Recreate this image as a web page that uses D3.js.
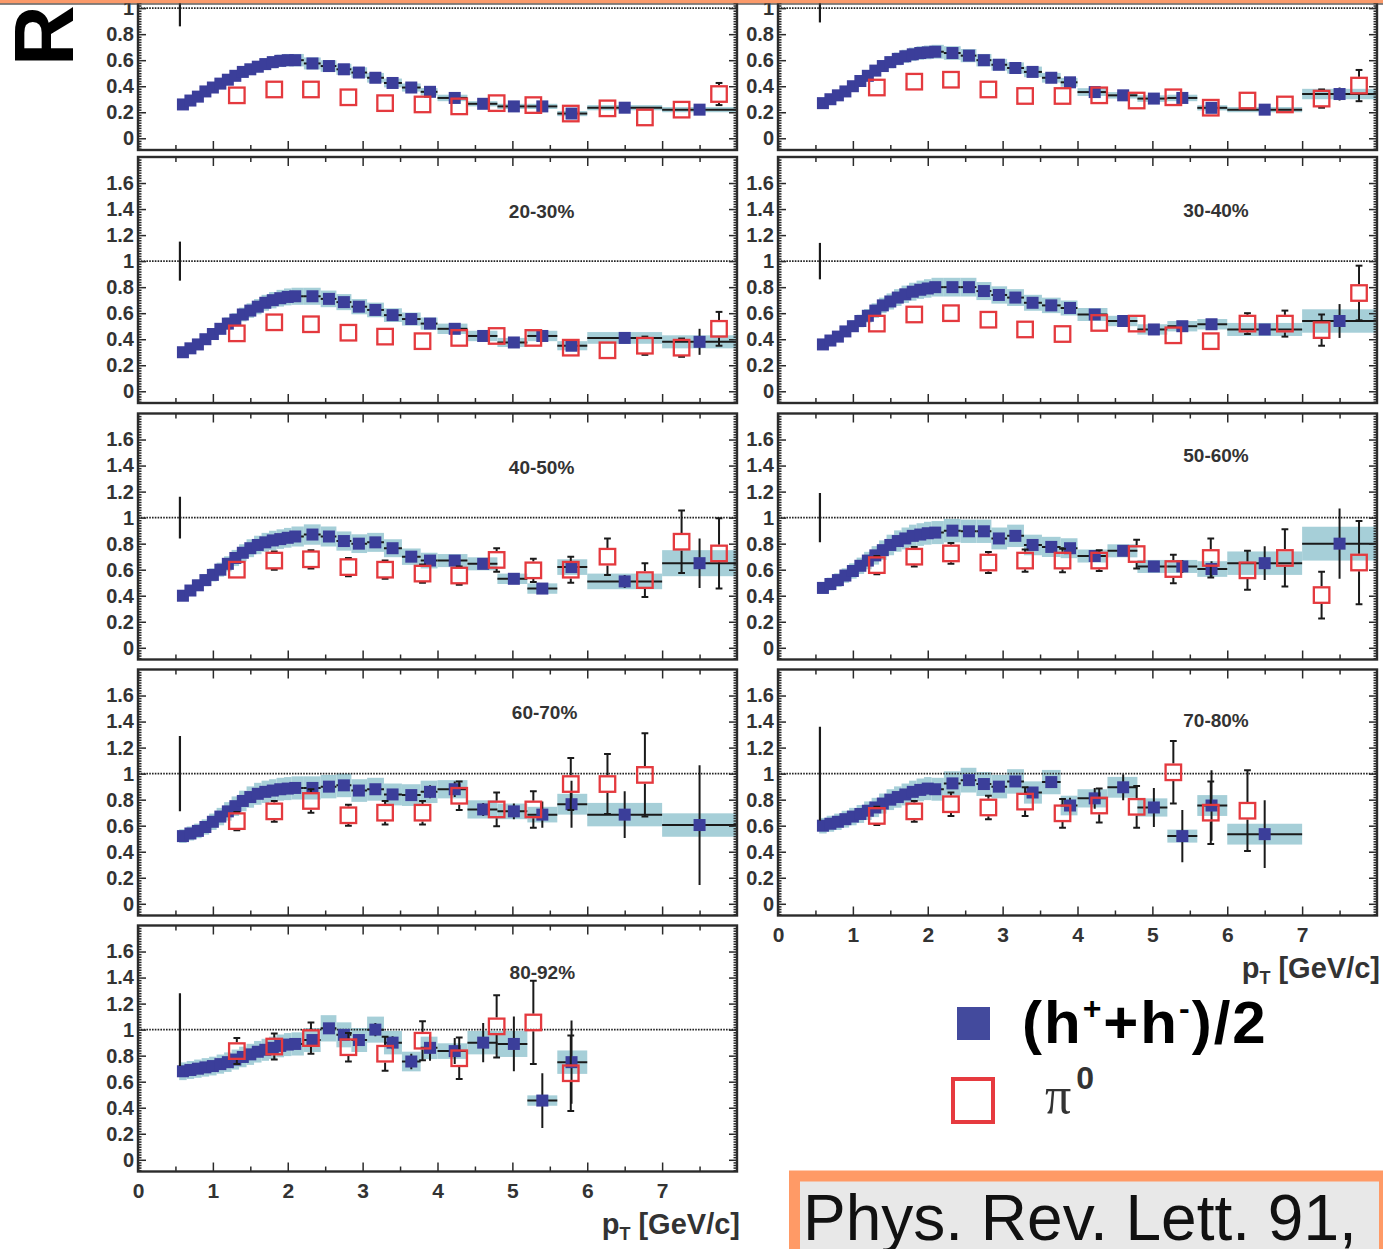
<!DOCTYPE html>
<html>
<head>
<meta charset="utf-8">
<script src="https://cdn.jsdelivr.net/npm/d3@7"></script>
<style>
  html, body { margin: 0; padding: 0; background: #fff; }
  svg { display: block; }
</style>
</head>
<body>
<svg id="fig" width="1383" height="1249"></svg>
<script>
// ---------------------------------------------------------------
// Data: R_CP of (h+ + h-)/2 and pi0 versus pT, per centrality class
// ---------------------------------------------------------------
const centralities = ["0-10%", "10-20%", "20-30%", "30-40%", "40-50%", "50-60%", "60-70%", "70-80%", "80-92%"];

// charged hadron pT bins
const ptFine = [0.6, 0.7, 0.8, 0.9, 1.0, 1.1, 1.2, 1.3, 1.4, 1.5, 1.6, 1.7, 1.8, 1.9, 2.0, 2.1];
const ptMid = [2.33, 2.55, 2.75, 2.95, 3.17, 3.4, 3.65, 3.9];
const ptHigh = [4.23, 4.61, 5.02, 5.4, 5.79, 6.5, 7.5];
const highEdges = [4.0, 4.4, 4.8, 5.2, 5.6, 6.0, 7.0, 8.0];

const hadronFineR = [
  [0.26, 0.29, 0.32, 0.36, 0.39, 0.42, 0.45, 0.48, 0.51, 0.53, 0.55, 0.57, 0.585, 0.595, 0.60, 0.60],
  [0.27, 0.30, 0.33, 0.36, 0.40, 0.44, 0.48, 0.52, 0.555, 0.585, 0.61, 0.63, 0.645, 0.655, 0.66, 0.665],
  [0.30, 0.33, 0.36, 0.40, 0.44, 0.48, 0.52, 0.55, 0.59, 0.62, 0.65, 0.68, 0.70, 0.715, 0.725, 0.73],
  [0.36, 0.39, 0.42, 0.46, 0.50, 0.54, 0.58, 0.62, 0.66, 0.69, 0.72, 0.745, 0.765, 0.78, 0.79, 0.80],
  [0.40, 0.44, 0.48, 0.52, 0.56, 0.60, 0.645, 0.69, 0.73, 0.765, 0.79, 0.81, 0.825, 0.835, 0.845, 0.855],
  [0.46, 0.49, 0.52, 0.555, 0.59, 0.63, 0.67, 0.71, 0.75, 0.79, 0.82, 0.84, 0.86, 0.87, 0.88, 0.885],
  [0.52, 0.54, 0.56, 0.59, 0.63, 0.67, 0.71, 0.75, 0.79, 0.82, 0.845, 0.86, 0.87, 0.88, 0.885, 0.89],
  [0.60, 0.615, 0.63, 0.65, 0.67, 0.69, 0.715, 0.74, 0.77, 0.80, 0.82, 0.84, 0.86, 0.875, 0.885, 0.88],
  [0.68, 0.69, 0.70, 0.71, 0.72, 0.735, 0.75, 0.77, 0.79, 0.81, 0.83, 0.845, 0.86, 0.875, 0.885, 0.89]
];

const hadronMidR = [
  [0.575, 0.555, 0.53, 0.505, 0.465, 0.425, 0.39, 0.357],
  [0.655, 0.635, 0.60, 0.565, 0.54, 0.51, 0.465, 0.43],
  [0.73, 0.71, 0.685, 0.65, 0.625, 0.585, 0.555, 0.52],
  [0.80, 0.80, 0.77, 0.74, 0.72, 0.68, 0.66, 0.64],
  [0.87, 0.855, 0.82, 0.80, 0.81, 0.765, 0.70, 0.67],
  [0.90, 0.895, 0.895, 0.84, 0.86, 0.79, 0.775, 0.765],
  [0.89, 0.90, 0.91, 0.87, 0.88, 0.84, 0.835, 0.86],
  [0.925, 0.95, 0.92, 0.90, 0.94, 0.855, 0.935, 0.755],
  [0.92, 1.01, 0.96, 0.92, 1.00, 0.90, 0.755, 0.86]
];

const hadronMidStat = [
  [0.005, 0.005, 0.005, 0.005, 0.006, 0.006, 0.007, 0.008],
  [0.005, 0.005, 0.006, 0.006, 0.007, 0.008, 0.009, 0.01],
  [0.006, 0.006, 0.007, 0.008, 0.009, 0.01, 0.011, 0.012],
  [0.007, 0.007, 0.008, 0.009, 0.01, 0.012, 0.014, 0.016],
  [0.008, 0.009, 0.01, 0.011, 0.013, 0.015, 0.017, 0.02],
  [0.01, 0.011, 0.012, 0.014, 0.016, 0.018, 0.02, 0.025],
  [0.02, 0.02, 0.02, 0.02, 0.03, 0.03, 0.04, 0.05],
  [0.02, 0.02, 0.03, 0.03, 0.03, 0.04, 0.04, 0.06],
  [0.03, 0.03, 0.04, 0.04, 0.05, 0.05, 0.06, 0.10]
];

const hadronHighR = [
  [0.31, 0.265, 0.245, 0.245, 0.19, 0.235, 0.22],
  [0.355, 0.33, 0.305, 0.31, 0.234, 0.22, 0.34],
  [0.48, 0.425, 0.375, 0.425, 0.35, 0.41, 0.38],
  [0.59, 0.54, 0.475, 0.50, 0.515, 0.475, 0.54],
  [0.67, 0.645, 0.53, 0.455, 0.62, 0.51, 0.65],
  [0.705, 0.745, 0.625, 0.625, 0.605, 0.65, 0.80],
  [0.88, 0.725, 0.71, 0.685, 0.765, 0.685, 0.605],
  [0.81, 0.895, 0.74, 0.52, 0.755, 0.535],
  [0.835, 0.90, 0.89, 0.455, 0.75]
];

const hadronHighStat = [
  [0.01, 0.01, 0.01, 0.01, 0.015, 0.015, 0.02],
  [0.01, 0.01, 0.015, 0.015, 0.02, 0.02, 0.05],
  [0.02, 0.02, 0.02, 0.03, 0.03, 0.04, 0.10],
  [0.02, 0.02, 0.02, 0.03, 0.03, 0.03, 0.13],
  [0.02, 0.03, 0.03, 0.03, 0.04, 0.05, 0.19],
  [0.03, 0.04, 0.04, 0.05, 0.06, 0.13, 0.27],
  [0.06, 0.05, 0.06, 0.10, 0.18, 0.18, 0.46],
  [0.08, 0.10, 0.15, 0.20, 0.27, 0.26],
  [0.10, 0.15, 0.21, 0.21, 0.32]
];

const hadronHighSys = [
  [0.025, 0.02, 0.02, 0.02, 0.02, 0.02, 0.02],
  [0.03, 0.025, 0.025, 0.025, 0.02, 0.02, 0.04],
  [0.04, 0.04, 0.035, 0.04, 0.035, 0.045, 0.05],
  [0.05, 0.04, 0.04, 0.04, 0.04, 0.05, 0.09],
  [0.05, 0.05, 0.04, 0.04, 0.06, 0.06, 0.10],
  [0.05, 0.05, 0.05, 0.05, 0.06, 0.09, 0.13],
  [0.07, 0.07, 0.06, 0.06, 0.08, 0.09, 0.09],
  [0.07, 0.08, 0.07, 0.05, 0.08, 0.08],
  [0.06, 0.09, 0.10, 0.04, 0.09]
];

// relative systematic uncertainty of the low-pT hadron points
const hadronSysFrac = [0.08, 0.08, 0.09, 0.09, 0.09, 0.10, 0.10, 0.10, 0.10];

// neutral pion points
const ptPi0 = [1.32, 1.82, 2.31, 2.81, 3.30, 3.80, 4.29, 4.79, 5.28, 5.78, 6.27, 6.77, 7.26, 7.76];

const pi0R = [
  [0.33, 0.375, 0.375, 0.315, 0.27, 0.26, 0.245, 0.27, 0.255, 0.19, 0.23, 0.16, 0.22, 0.34],
  [0.39, 0.435, 0.45, 0.375, 0.325, 0.325, 0.33, 0.29, 0.315, 0.235, 0.29, 0.26, 0.305, 0.405],
  [0.445, 0.53, 0.515, 0.45, 0.42, 0.385, 0.41, 0.425, 0.41, 0.335, 0.315, 0.35, 0.335, 0.48],
  [0.52, 0.59, 0.60, 0.55, 0.475, 0.44, 0.525, 0.52, 0.43, 0.385, 0.52, 0.52, 0.47, 0.755],
  [0.60, 0.67, 0.68, 0.62, 0.60, 0.57, 0.555, 0.675, 0.595, 0.60, 0.70, 0.52, 0.815, 0.725],
  [0.635, 0.70, 0.725, 0.655, 0.67, 0.67, 0.67, 0.72, 0.605, 0.69, 0.595, 0.69, 0.405, 0.655],
  [0.635, 0.71, 0.79, 0.68, 0.70, 0.70, 0.83, 0.725, 0.725, 0.92, 0.92, 0.99],
  [0.675, 0.71, 0.765, 0.74, 0.785, 0.695, 0.755, 0.745, 1.01, 0.70, 0.715],
  [0.835, 0.87, 0.935, 0.865, 0.815, 0.915, 0.78, 1.025, 1.055, 0.665]
];

const pi0Err = [
  [0.02, 0.02, 0.02, 0.02, 0.02, 0.02, 0.02, 0.02, 0.02, 0.025, 0.03, 0.03, 0.04, 0.085],
  [0.02, 0.02, 0.02, 0.02, 0.02, 0.02, 0.03, 0.03, 0.03, 0.03, 0.04, 0.05, 0.07, 0.12],
  [0.03, 0.065, 0.06, 0.05, 0.05, 0.05, 0.05, 0.05, 0.05, 0.04, 0.05, 0.07, 0.07, 0.13],
  [0.065, 0.06, 0.06, 0.06, 0.055, 0.055, 0.06, 0.06, 0.05, 0.05, 0.08, 0.10, 0.12, 0.21],
  [0.06, 0.07, 0.07, 0.07, 0.07, 0.07, 0.07, 0.09, 0.09, 0.10, 0.14, 0.13, 0.24, 0.27],
  [0.07, 0.075, 0.08, 0.08, 0.085, 0.09, 0.08, 0.11, 0.11, 0.15, 0.15, 0.22, 0.18, 0.32],
  [0.07, 0.08, 0.09, 0.08, 0.09, 0.09, 0.11, 0.13, 0.14, 0.20, 0.23, 0.32],
  [0.07, 0.08, 0.09, 0.09, 0.11, 0.11, 0.13, 0.16, 0.24, 0.24, 0.31],
  [0.10, 0.10, 0.12, 0.11, 0.13, 0.15, 0.16, 0.24, 0.32, 0.29]
];

// normalisation uncertainty drawn as a bar at R = 1
const normUncert = [0.14, 0.11, 0.15, 0.14, 0.16, 0.19, 0.29, 0.36, 0.28];

const yTickValues = [0, 0.2, 0.4, 0.6, 0.8, 1.0, 1.2, 1.4, 1.6];
const xTickValues = [0, 1, 2, 3, 4, 5, 6, 7];
const citation = "Phys. Rev. Lett. 91,";

// ---------------------------------------------------------------
// Layout
// ---------------------------------------------------------------
const svg = d3.select("#fig");
const colLeft = [138, 778];
const panelW = 599;
const panelH = 246;
const rowTop = [-96, 157, 413.5, 669.5, 925.5];
const panelGrid = [[0, 0], [1, 0], [0, 1], [1, 1], [0, 2], [1, 2], [0, 3], [1, 3], [0, 4]];
const labelAnchor = [[5.4, 1.39], [5.85, 1.39], [5.39, 1.385], [5.85, 1.39], [5.39, 1.39], [5.85, 1.48], [5.43, 1.47], [5.85, 1.415], [5.40, 1.445]];
const normX = 0.56;

const C = {
  hadron: "#3b3e9a",
  band: "#a6cfd8",
  pi0: "#e4393e",
  ink: "#1a1a1a",
  axis: "#2b2b2b",
  text: "#333333"
};
const FONT = "'Liberation Sans', Arial, Helvetica, sans-serif";

svg.append("rect").attr("width", 1383).attr("height", 1249).attr("fill", "#fff");

const defs = svg.append("defs");

function fmtY(d) {
  if (Math.abs(d) < 1e-9) return "0";
  if (Math.abs(d - 1) < 1e-9) return "1";
  return d3.format(".1f")(d);
}

function drawPanel(i) {
  const [col, row] = panelGrid[i];
  const x0 = colLeft[col];
  const top = rowTop[row];
  const x = d3.scaleLinear().domain([0, 8]).range([x0, x0 + panelW]);
  const y = d3.scaleLinear().domain([-0.09, 1.8]).range([top + panelH, top]);
  const isBottom = (i === 7 || i === 8);

  const clipId = "clip-" + i;
  defs.append("clipPath").attr("id", clipId)
    .append("rect").attr("x", x0).attr("y", top).attr("width", panelW).attr("height", panelH);

  const g = svg.append("g").attr("class", "panel");
  const plot = g.append("g").attr("clip-path", `url(#${clipId})`);

  // hadron points with bin edges
  const lowPt = ptFine.concat(ptMid);
  const lowR = hadronFineR[i].concat(hadronMidR[i]);
  const lowStat = ptFine.map(() => 0).concat(hadronMidStat[i]);
  const edges = lowPt.map((p, k) => k === 0 ? p - 0.05 : (lowPt[k - 1] + p) / 2);
  edges.push(highEdges[0]);
  const hadrons = lowPt.map((p, k) => ({
    pt: p, lo: edges[k], hi: edges[k + 1], r: lowR[k], stat: lowStat[k], sys: lowR[k] * hadronSysFrac[i]
  }));
  hadronHighR[i].forEach((r, k) => hadrons.push({
    pt: ptHigh[k], lo: highEdges[k], hi: highEdges[k + 1], r: r,
    stat: hadronHighStat[i][k], sys: hadronHighSys[i][k]
  }));

  const pions = pi0R[i].map((r, k) => ({ pt: ptPi0[k], r: r, err: pi0Err[i][k] }));

  // systematic boxes
  plot.append("g").selectAll("rect").data(hadrons).join("rect")
    .attr("x", d => x(d.lo))
    .attr("width", d => x(d.hi) - x(d.lo))
    .attr("y", d => y(d.r + d.sys))
    .attr("height", d => y(d.r - d.sys) - y(d.r + d.sys))
    .attr("fill", C.band);

  // reference line at R = 1
  plot.append("line")
    .attr("x1", x(0)).attr("x2", x(8))
    .attr("y1", y(1)).attr("y2", y(1))
    .attr("stroke", "#222").attr("stroke-width", 1.6)
    .attr("stroke-dasharray", "1.6,1.2");

  // hadron bin widths and statistical errors
  plot.append("g").selectAll("line").data(hadrons).join("line")
    .attr("x1", d => x(d.lo)).attr("x2", d => x(d.hi))
    .attr("y1", d => y(d.r)).attr("y2", d => y(d.r))
    .attr("stroke", C.ink).attr("stroke-width", 2);
  plot.append("g").selectAll("line").data(hadrons.filter(d => d.stat > 0)).join("line")
    .attr("x1", d => x(d.pt)).attr("x2", d => x(d.pt))
    .attr("y1", d => y(d.r - d.stat)).attr("y2", d => y(d.r + d.stat))
    .attr("stroke", C.ink).attr("stroke-width", 2);

  // hadron markers
  const hs = 12;
  plot.append("g").selectAll("rect").data(hadrons).join("rect")
    .attr("x", d => x(d.pt) - hs / 2).attr("y", d => y(d.r) - hs / 2)
    .attr("width", hs).attr("height", hs)
    .attr("fill", C.hadron);

  // pi0 error bars (outside the open marker)
  const ps = 15.5;
  const half = ps / 2 + 1;
  const cap = 3.4;
  const pe = plot.append("g").attr("stroke", C.ink).attr("stroke-width", 2);
  pions.forEach(d => {
    const cy = y(d.r), cx = x(d.pt);
    const yUp = y(d.r + d.err), yDn = y(d.r - d.err);
    if (cy - yUp > half) {
      pe.append("line").attr("x1", cx).attr("x2", cx).attr("y1", cy - half).attr("y2", yUp);
      pe.append("line").attr("x1", cx - cap).attr("x2", cx + cap).attr("y1", yUp).attr("y2", yUp);
    }
    if (yDn - cy > half) {
      pe.append("line").attr("x1", cx).attr("x2", cx).attr("y1", cy + half).attr("y2", yDn);
      pe.append("line").attr("x1", cx - cap).attr("x2", cx + cap).attr("y1", yDn).attr("y2", yDn);
    }
  });

  // pi0 markers
  plot.append("g").selectAll("rect").data(pions).join("rect")
    .attr("x", d => x(d.pt) - ps / 2).attr("y", d => y(d.r) - ps / 2)
    .attr("width", ps).attr("height", ps)
    .attr("fill", "none").attr("stroke", C.pi0).attr("stroke-width", 2.3);

  // normalisation uncertainty
  plot.append("line")
    .attr("x1", x(normX)).attr("x2", x(normX))
    .attr("y1", y(1 - normUncert[i])).attr("y2", y(1 + normUncert[i]))
    .attr("stroke", C.ink).attr("stroke-width", 2.2);

  // axes
  const minorY = d3.range(-4, 91).filter(k => k % 10 !== 0).map(k => k * 0.02);
  const minorX = d3.range(0, 8).map(k => k + 0.5);

  const styleAxis = sel => {
    sel.select(".domain").remove();
    sel.selectAll(".tick line").attr("stroke", C.axis).attr("stroke-width", 1.5);
    sel.selectAll("text")
      .attr("fill", C.text).attr("font-family", FONT).attr("font-weight", "bold");
  };

  const axBottom = g.append("g").attr("transform", `translate(0,${top + panelH})`)
    .call(d3.axisBottom(x).tickValues(xTickValues).tickSizeInner(-9).tickSizeOuter(0).tickPadding(12)
      .tickFormat(isBottom ? d3.format("d") : () => ""))
    .call(styleAxis);
  axBottom.selectAll("text").attr("font-size", 21);
  g.append("g").attr("transform", `translate(0,${top + panelH})`)
    .call(d3.axisBottom(x).tickValues(minorX).tickSizeInner(-5).tickSizeOuter(0).tickFormat(() => ""))
    .call(styleAxis);
  g.append("g").attr("transform", `translate(0,${top})`)
    .call(d3.axisTop(x).tickValues(xTickValues).tickSizeInner(-9).tickSizeOuter(0).tickFormat(() => ""))
    .call(styleAxis);
  g.append("g").attr("transform", `translate(0,${top})`)
    .call(d3.axisTop(x).tickValues(minorX).tickSizeInner(-5).tickSizeOuter(0).tickFormat(() => ""))
    .call(styleAxis);

  // labels only where they fall on the page
  const axLeft = g.append("g").attr("transform", `translate(${x0},0)`)
    .call(d3.axisLeft(y).tickValues(yTickValues).tickSizeInner(-8).tickSizeOuter(0).tickPadding(4)
      .tickFormat(d => y(d) > 4 ? fmtY(d) : ""))
    .call(styleAxis);
  axLeft.selectAll("text").attr("font-size", 20);
  g.append("g").attr("transform", `translate(${x0},0)`)
    .call(d3.axisLeft(y).tickValues(minorY).tickSizeInner(-3.5).tickSizeOuter(0).tickFormat(() => ""))
    .call(styleAxis);
  g.append("g").attr("transform", `translate(${x0 + panelW},0)`)
    .call(d3.axisRight(y).tickValues(yTickValues).tickSizeInner(-8).tickSizeOuter(0).tickFormat(() => ""))
    .call(styleAxis);
  g.append("g").attr("transform", `translate(${x0 + panelW},0)`)
    .call(d3.axisRight(y).tickValues(minorY).tickSizeInner(-3.5).tickSizeOuter(0).tickFormat(() => ""))
    .call(styleAxis);

  // frame
  g.append("rect")
    .attr("x", x0).attr("y", top).attr("width", panelW).attr("height", panelH)
    .attr("fill", "none").attr("stroke", C.axis).attr("stroke-width", 2.4);

  // centrality label
  const [lx, ly] = labelAnchor[i];
  if (y(ly) > 10) {
    g.append("text")
      .attr("x", x(lx)).attr("y", y(ly) + 7)
      .attr("text-anchor", "middle")
      .attr("font-family", FONT).attr("font-weight", "bold").attr("font-size", 19)
      .attr("fill", C.text)
      .text(centralities[i]);
  }

  // pT axis title under the bottom panel of each column
  if (isBottom) {
    const t = g.append("text")
      .attr("x", x0 + panelW + 3).attr("y", top + panelH + 62)
      .attr("text-anchor", "end")
      .attr("font-family", FONT).attr("font-weight", "bold").attr("font-size", 29)
      .attr("fill", C.text);
    t.append("tspan").text("p");
    t.append("tspan").attr("font-size", 18).attr("dy", 6).text("T");
    t.append("tspan").attr("dy", -6).text(" [GeV/c]");
  }
}

centralities.forEach((c, i) => drawPanel(i));

// ---------------------------------------------------------------
// Vertical axis title (partly visible "R")
// ---------------------------------------------------------------
svg.append("text")
  .attr("transform", "translate(73,66) rotate(-90)")
  .attr("font-family", FONT).attr("font-weight", "bold").attr("font-size", 84)
  .attr("fill", "#000")
  .text("R");

// top accent bar
svg.append("rect").attr("x", 0).attr("y", 0).attr("width", 1383).attr("height", 3.4).attr("fill", "#fb9a6a");
svg.append("rect").attr("x", 0).attr("y", 3.4).attr("width", 1383).attr("height", 1.2).attr("fill", "#3a3a3a");

// ---------------------------------------------------------------
// Legend
// ---------------------------------------------------------------
const leg = svg.append("g");
leg.append("rect").attr("x", 957).attr("y", 1007).attr("width", 33).attr("height", 33).attr("fill", "#434a9d");
const lt = leg.append("text")
  .attr("x", 1022).attr("y", 1043)
  .attr("font-family", FONT).attr("font-weight", "bold").attr("font-size", 60)
  .attr("letter-spacing", 2)
  .attr("fill", "#000");
lt.append("tspan").text("(h");
lt.append("tspan").attr("font-size", 32).attr("dy", -24).text("+");
lt.append("tspan").attr("dy", 24).text("+h");
lt.append("tspan").attr("font-size", 32).attr("dy", -24).text("-");
lt.append("tspan").attr("dy", 24).text(")/2");

leg.append("rect").attr("x", 953).attr("y", 1079).attr("width", 40).attr("height", 43)
  .attr("fill", "#fff").attr("stroke", "#e63a3f").attr("stroke-width", 4);
const pt = leg.append("text")
  .attr("x", 1045).attr("y", 1113)
  .attr("font-family", "'Liberation Serif', 'DejaVu Serif', serif").attr("font-size", 52)
  .attr("fill", "#333");
pt.append("tspan").text("\u03c0");
pt.append("tspan").attr("font-family", FONT).attr("font-weight", "bold").attr("font-size", 32)
  .attr("dy", -24).attr("dx", 5).text("0");

// ---------------------------------------------------------------
// Citation box
// ---------------------------------------------------------------
svg.append("rect")
  .attr("x", 794.5).attr("y", 1176).attr("width", 590).attr("height", 90)
  .attr("fill", "#e8e8e8").attr("stroke", "#ff9a66").attr("stroke-width", 11);
svg.append("text")
  .attr("x", 803).attr("y", 1240)
  .attr("font-family", FONT).attr("font-size", 64)
  .attr("fill", "#111")
  .text(citation);
</script>
</body>
</html>
